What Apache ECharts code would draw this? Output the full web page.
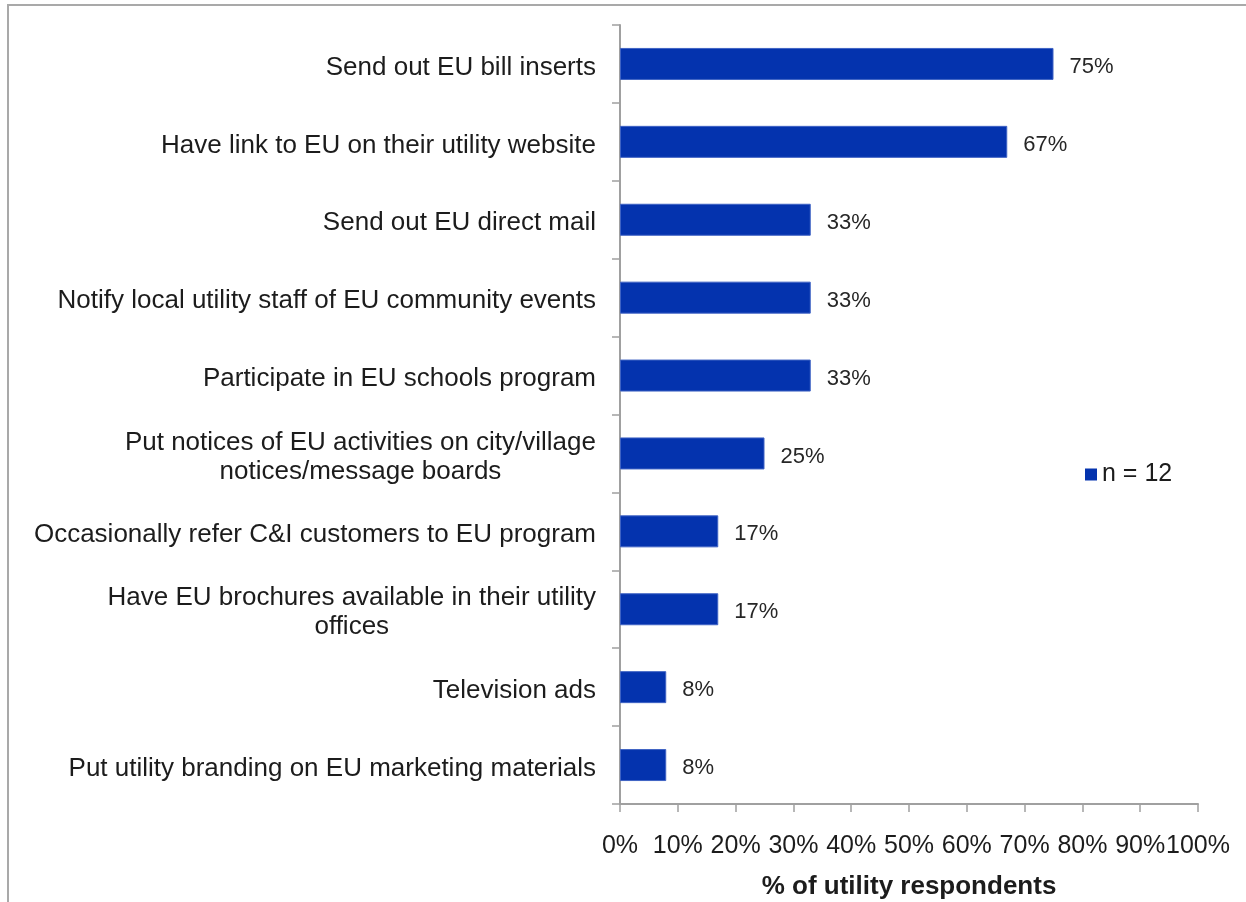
<!DOCTYPE html>
<html>
<head>
<meta charset="utf-8">
<title>EU promotion activities by utilities</title>
<script src="https://cdn.jsdelivr.net/npm/echarts@6/dist/echarts.min.js"></script>
<style>
  html, body { margin: 0; padding: 0; background: #fff; }
  #wrap { position: relative; width: 1246px; height: 902px; overflow: hidden; }
  #chart { position: absolute; left: 0; top: 0; width: 1246px; height: 902px; }
  #frame { position: absolute; left: 7px; top: 4px; right: -4px; bottom: -4px;
           border-top: 2px solid #a9a9a9; border-left: 2px solid #a9a9a9; pointer-events: none; }
</style>
</head>
<body>
<div id="wrap">
  <div id="chart"></div>
  <div id="frame"></div>
</div>
<script>
// Survey activities, top to bottom
const activities = [
  'Send out EU bill inserts',
  'Have link to EU on their utility website',
  'Send out EU direct mail',
  'Notify local utility staff of EU community events',
  'Participate in EU schools program',
  'Put notices of EU activities on city/village\nnotices/message boards',
  'Occasionally refer C&I customers to EU program',
  'Have EU brochures available in their utility\noffices',
  'Television ads',
  'Put utility branding on EU marketing materials'
];
// Share of utility respondents (%)
const shares = [75, 67, 33, 33, 33, 25, 17, 17, 8, 8];
const seriesName = 'n = 12';
const axisTitle = '% of utility respondents';
const tickValues = [0, 10, 20, 30, 40, 50, 60, 70, 80, 90, 100];

const FONT = "'Liberation Sans', Arial, sans-serif";
const BAR = '#0433ae';
const INK = '#1c1c1c';

const chart = echarts.init(document.getElementById('chart'), null, { renderer: 'canvas' });
chart.setOption({
  animation: false,
  backgroundColor: '#fff',
  textStyle: { fontFamily: FONT },
  grid: { left: 620, right: 48, top: 25, bottom: 98, containLabel: false, outerBoundsMode: 'none' },
  legend: {
    data: [seriesName],
    left: 1080, top: 457,
    itemWidth: 12, itemHeight: 12, itemGap: 6,
    icon: 'rect',
    itemStyle: { borderWidth: 0 },
    textStyle: { fontFamily: FONT, fontSize: 25, color: INK, padding: [0, 0, 0, 0] }
  },
  xAxis: {
    type: 'value',
    min: tickValues[0], max: tickValues[tickValues.length - 1], interval: 10,
    name: axisTitle,
    nameLocation: 'middle',
    nameGap: 70,
    nameTextStyle: { fontFamily: FONT, fontSize: 26, fontWeight: 'bold', color: INK },
    axisLine: { show: true, lineStyle: { color: '#a0a0a0', width: 2 } },
    axisTick: { show: true, length: 8, lineStyle: { color: '#a0a0a0', width: 1.5 } },
    splitLine: { show: false },
    axisLabel: {
      formatter: '{value}%', margin: 30,
      fontFamily: FONT, fontSize: 25, color: INK
    }
  },
  yAxis: {
    type: 'category',
    inverse: true,
    data: activities,
    axisLine: { show: true, lineStyle: { color: '#a0a0a0', width: 2 } },
    axisTick: { show: true, length: 8, alignWithLabel: false, lineStyle: { color: '#a0a0a0', width: 1.5 } },
    axisLabel: {
      margin: 24,
      padding: [7, 0, 0, 0],
      fontFamily: FONT, fontSize: 26, color: INK,
      formatter: function (v) {
        return v.split('\n').map(function (line) { return '{c|' + line + '}'; }).join('\n');
      },
      rich: {
        c: { fontFamily: FONT, fontSize: 26, color: INK, align: 'center', lineHeight: 29 }
      }
    }
  },
  series: [{
    name: seriesName,
    type: 'bar',
    data: shares,
    barWidth: 32,
    itemStyle: { color: BAR, borderColor: '#3f63c4', borderWidth: 1 },
    label: {
      show: true, position: 'right', distance: 16, offset: [0, 3],
      formatter: '{c}%',
      fontFamily: FONT, fontSize: 22, color: '#262626'
    }
  }]
});
</script>
</body>
</html>
